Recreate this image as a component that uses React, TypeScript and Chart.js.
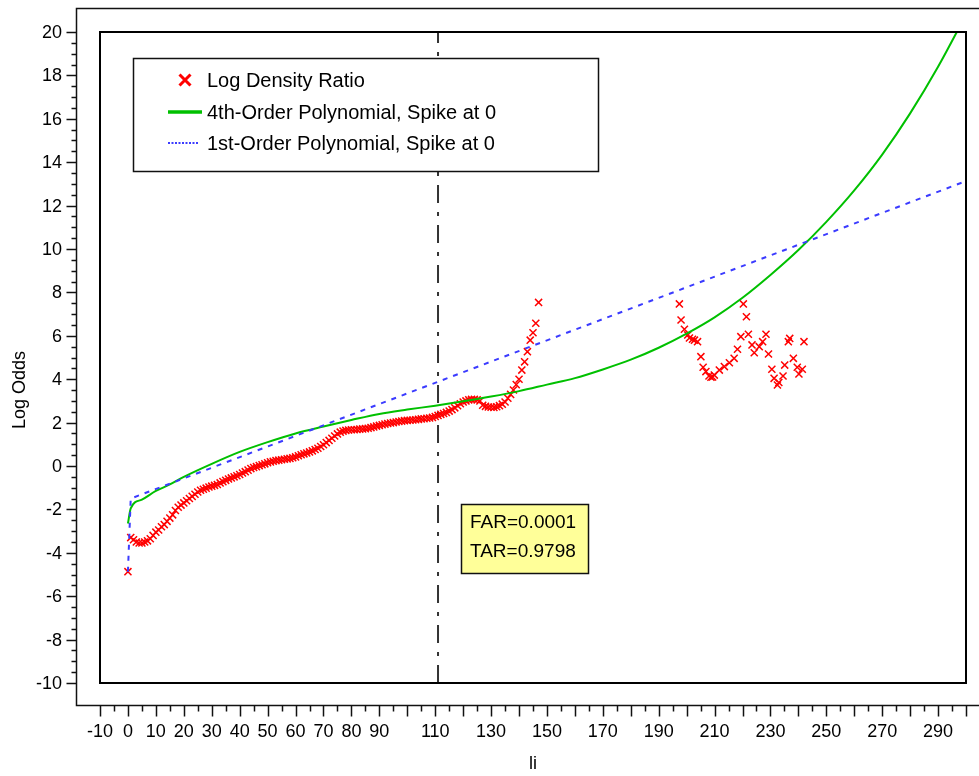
import React, { useEffect, useRef } from "react";
import { Chart, registerables } from "chart.js";

Chart.register(...registerables);

// ---------- data ----------
const xTickLabels = [-10, 0, 10, 20, 30, 40, 50, 60, 70, 80, 90, 110, 130, 150, 170, 190, 210, 230, 250, 270, 290];
const yTickLabels = [-10, -8, -6, -4, -2, 0, 2, 4, 6, 8, 10, 12, 14, 16, 18, 20];

// Log density ratio (red x markers)
const ratioLi = [
  0, 1, 2, 3, 4, 5, 6, 7, 8, 9, 10, 11, 12, 13, 14, 15, 16, 17, 18, 19,
  20, 21, 22, 23, 24, 25, 26, 27, 28, 29, 30, 31, 32, 33, 34, 35, 36, 37, 38, 39,
  40, 41, 42, 43, 44, 45, 46, 47, 48, 49, 50, 51, 52, 53, 54, 55, 56, 57, 58, 59,
  60, 61, 62, 63, 64, 65, 66, 67, 68, 69, 70, 71, 72, 73, 74, 75, 76, 77, 78, 79,
  80, 81, 82, 83, 84, 85, 86, 87, 88, 89, 90, 91, 92, 93, 94, 95, 96, 97, 98, 99,
  100, 101, 102, 103, 104, 105, 106, 107, 108, 109, 110, 111, 112, 113, 114, 115, 116, 117, 118, 119,
  120, 121, 122, 123, 124, 125, 126, 127, 128, 129, 130, 131, 132, 133, 134, 135, 136, 137, 138, 139,
  140, 141, 142, 143, 144, 145, 146, 147,
  197.4, 198, 199.2, 200.4, 201, 202.1, 202.8, 203.9, 205.1, 205.9, 206.9, 208, 208.7, 209.3, 209.9, 211.7, 213.5,
  215.3, 217, 218.2, 219.4, 220.3, 221.4, 222.1, 223.4, 224.2, 226, 227.2, 228.4, 229.3, 230.5, 231.3, 232.5, 233,
  234.5, 235.1, 236.4, 236.9, 238.2, 239.6, 240.2, 241.4, 242,
];
const ratioValues = [
  -4.87, -3.3, -3.4, -3.5, -3.55, -3.55, -3.5, -3.45, -3.35, -3.2, -3.05, -2.95, -2.8, -2.7, -2.55, -2.4, -2.25, -2.05, -1.9, -1.8,
  -1.7, -1.6, -1.5, -1.4, -1.3, -1.2, -1.12, -1.07, -1.02, -0.97, -0.93, -0.89, -0.85, -0.78, -0.72, -0.66, -0.6, -0.55, -0.5, -0.45,
  -0.39, -0.32, -0.26, -0.19, -0.12, -0.07, -0.03, 0.02, 0.06, 0.1, 0.15, 0.19, 0.22, 0.25, 0.27, 0.29, 0.31, 0.33, 0.35, 0.38,
  0.42, 0.47, 0.52, 0.56, 0.6, 0.65, 0.7, 0.76, 0.82, 0.9, 0.98, 1.08, 1.18, 1.28, 1.38, 1.48, 1.56, 1.61, 1.64, 1.66,
  1.67, 1.67, 1.68, 1.7, 1.71, 1.72, 1.74, 1.77, 1.8, 1.84, 1.87, 1.9, 1.93, 1.96, 1.98, 2.0, 2.03, 2.05, 2.07, 2.09,
  2.1, 2.11, 2.12, 2.13, 2.15, 2.17, 2.18, 2.2, 2.21, 2.24, 2.28, 2.33, 2.38, 2.42, 2.47, 2.53, 2.6, 2.68, 2.78, 2.87,
  2.95, 3.0, 3.05, 3.07, 3.07, 3.05, 3.0, 2.8, 2.75, 2.72, 2.71, 2.7, 2.73, 2.78, 2.85, 2.95, 3.12, 3.3, 3.5, 3.75,
  4.0, 4.42, 4.8, 5.27, 5.8, 6.14, 6.58, 7.54,
  7.47, 6.73, 6.3, 6.04, 5.9, 5.84, 5.8, 5.73, 5.04, 4.55, 4.35, 4.15, 4.09, 4.1, 4.19, 4.42, 4.58, 4.76, 4.96,
  5.38, 5.96, 7.47, 6.88, 6.07, 5.58, 5.22, 5.5, 5.73, 6.07, 5.16, 4.46, 4.04, 3.73, 3.85, 4.15, 4.65, 5.73, 5.88,
  4.96, 4.55, 4.24, 4.46, 5.73,
];

// 4th-order polynomial fit with spike at 0 (green)
const poly4Li = [0, 1, 5, 10, 15, 20, 30, 40, 50, 60, 70, 80, 90, 100, 110, 120, 130, 140, 150, 160, 170, 180, 190, 200, 210, 220, 230, 240, 250, 260, 270, 280, 290, 300];
const poly4Values = [-2.65, -1.95, -1.55, -1.15, -0.85, -0.5, 0.1, 0.65, 1.1, 1.5, 1.82, 2.12, 2.4, 2.6, 2.78, 2.98, 3.2, 3.45, 3.75, 4.05, 4.45, 4.9, 5.45, 6.1, 6.85, 7.75, 8.8, 9.95, 11.25, 12.7, 14.35, 16.25, 18.4, 20.8];

// 1st-order polynomial fit with spike at 0 (blue)
const poly1Li = [0, 1, 300];
const poly1Values = [-4.87, -1.5, 13.13];

// Threshold line
const thresholdLi = 111;
const farText = "FAR=0.0001";
const tarText = "TAR=0.9798";

const seriesLabels = ["Log Density Ratio", "4th-Order Polynomial, Spike at 0", "1st-Order Polynomial, Spike at 0"];

// ---------- styling ----------
const FONT = "'Liberation Sans', Arial, sans-serif";
const RED = "#ff0000";
const GREEN = "#00c000";
const BLUE = "#3b3bff";

const toPts = (xs: number[], ys: number[]) => xs.map((x, i) => ({ x, y: ys[i] }));

const decorPlugin = {
  id: "decor",
  beforeDraw(chart: any) {
    const ctx = chart.ctx;
    ctx.save();
    ctx.fillStyle = "#ffffff";
    ctx.fillRect(0, 0, chart.width, chart.height);
    ctx.restore();
  },
  afterDraw(chart: any) {
    const ctx: CanvasRenderingContext2D = chart.ctx;
    const { left, right, top, bottom } = chart.chartArea;
    const xs = chart.scales.x;
    const ys = chart.scales.y;
    ctx.save();

    // inner plot frame
    ctx.strokeStyle = "#000";
    ctx.lineWidth = 2;
    ctx.strokeRect(left, top, right - left, bottom - top);

    // outer axes frame
    const axX = 76.5;
    const axY = 705.5;
    const topY = 8.5;
    ctx.lineWidth = 1.5;
    ctx.strokeStyle = "#111";
    ctx.beginPath();
    ctx.moveTo(chart.width, topY);
    ctx.lineTo(axX, topY);
    ctx.lineTo(axX, axY);
    ctx.lineTo(chart.width, axY);
    ctx.stroke();

    // y ticks
    ctx.lineWidth = 1.5;
    ctx.beginPath();
    for (let v = -10; v <= 20.001; v += 0.5) {
      const py = Math.round(ys.getPixelForValue(v)) + 0.5;
      const major = Math.abs(v % 2) < 1e-6;
      ctx.moveTo(axX, py);
      ctx.lineTo(axX - (major ? 10 : 5), py);
    }
    // x ticks
    for (let v = -10; v <= 300.001; v += 5) {
      const px = Math.round(xs.getPixelForValue(v)) + 0.5;
      const major = Math.abs(v % 10) < 1e-6;
      ctx.moveTo(px, axY);
      ctx.lineTo(px, axY + (major ? 11 : 6));
    }
    ctx.stroke();

    // tick labels
    ctx.fillStyle = "#000";
    ctx.font = `18px ${FONT}`;
    ctx.textAlign = "right";
    ctx.textBaseline = "middle";
    yTickLabels.forEach((v) => {
      ctx.fillText(String(v), 62, ys.getPixelForValue(v) + 1);
    });
    ctx.textAlign = "center";
    xTickLabels.forEach((v) => {
      ctx.fillText(String(v), xs.getPixelForValue(v), 732);
    });

    // axis titles
    ctx.font = `18px ${FONT}`;
    ctx.fillText("li", (left + right) / 2, 764);
    ctx.save();
    ctx.translate(20, 390);
    ctx.rotate(-Math.PI / 2);
    ctx.fillText("Log Odds", 0, 0);
    ctx.restore();

    // legend
    const lx = 133.5, ly = 58.5, lw = 465, lh = 113;
    ctx.fillStyle = "#fff";
    ctx.fillRect(lx, ly, lw, lh);
    ctx.strokeStyle = "#111";
    ctx.lineWidth = 1.5;
    ctx.strokeRect(lx, ly, lw, lh);
    const rowY = [80, 112, 143];
    // red x
    ctx.strokeStyle = RED;
    ctx.lineWidth = 3;
    ctx.beginPath();
    ctx.moveTo(179.5, 74.5);
    ctx.lineTo(190.5, 85.5);
    ctx.moveTo(190.5, 74.5);
    ctx.lineTo(179.5, 85.5);
    ctx.stroke();
    // green line
    ctx.strokeStyle = GREEN;
    ctx.lineWidth = 3.5;
    ctx.beginPath();
    ctx.moveTo(168, rowY[1]);
    ctx.lineTo(202, rowY[1]);
    ctx.stroke();
    // blue dotted
    ctx.strokeStyle = BLUE;
    ctx.lineWidth = 2;
    ctx.setLineDash([2, 1.5]);
    ctx.beginPath();
    ctx.moveTo(168, rowY[2]);
    ctx.lineTo(198, rowY[2]);
    ctx.stroke();
    ctx.setLineDash([]);
    ctx.fillStyle = "#000";
    ctx.font = `20px ${FONT}`;
    ctx.textAlign = "left";
    ctx.textBaseline = "middle";
    seriesLabels.forEach((t, i) => ctx.fillText(t, 207, rowY[i] + 1));

    // FAR / TAR box
    const bx = 461.5, by = 504.5, bw = 127, bh = 69;
    ctx.fillStyle = "#ffff99";
    ctx.fillRect(bx, by, bw, bh);
    ctx.strokeStyle = "#111";
    ctx.lineWidth = 1.5;
    ctx.strokeRect(bx, by, bw, bh);
    ctx.fillStyle = "#000";
    ctx.font = `19px ${FONT}`;
    ctx.fillText(farText, 470, 523);
    ctx.fillText(tarText, 470, 552);

    ctx.restore();
  },
};

export default function App() {
  const ref = useRef<HTMLCanvasElement | null>(null);
  useEffect(() => {
    if (!ref.current) return;
    const chart = new Chart(ref.current, {
      type: "scatter",
      data: {
        datasets: [
          {
            label: seriesLabels[0],
            data: toPts(ratioLi, ratioValues),
            showLine: false,
            pointStyle: "crossRot",
            pointRadius: 5,
            borderColor: RED,
            backgroundColor: RED,
            borderWidth: 1.5,
            order: 3,
          },
          {
            label: seriesLabels[1],
            data: toPts(poly4Li, poly4Values),
            showLine: true,
            borderColor: GREEN,
            borderWidth: 2,
            pointRadius: 0,
            cubicInterpolationMode: "monotone",
            order: 2,
          },
          {
            label: seriesLabels[2],
            data: toPts(poly1Li, poly1Values),
            showLine: true,
            borderColor: BLUE,
            borderWidth: 2,
            borderDash: [5, 6],
            pointRadius: 0,
            order: 1,
          },
          {
            label: "threshold",
            data: [
              { x: thresholdLi, y: -10 },
              { x: thresholdLi, y: 20 },
            ],
            showLine: true,
            borderColor: "#333",
            borderWidth: 2,
            borderDash: [18, 9, 4, 9],
            pointRadius: 0,
            order: 4,
          },
        ],
      },
      options: {
        responsive: false,
        maintainAspectRatio: false,
        animation: false,
        layout: { padding: { left: 100, top: 32, right: 13, bottom: 93 } },
        plugins: { legend: { display: false }, tooltip: { enabled: false }, title: { display: false } },
        scales: {
          x: { type: "linear", min: -10, max: 300, display: false },
          y: { type: "linear", min: -10, max: 20, display: false },
        },
      },
      plugins: [decorPlugin],
    });
    return () => chart.destroy();
  }, []);
  return (
    <div style={{ position: "fixed", left: 0, top: 0, width: 979, height: 776, background: "#fff" }}>
      <canvas ref={ref} width={979} height={776} style={{ display: "block", width: 979, height: 776 }} />
    </div>
  );
}
